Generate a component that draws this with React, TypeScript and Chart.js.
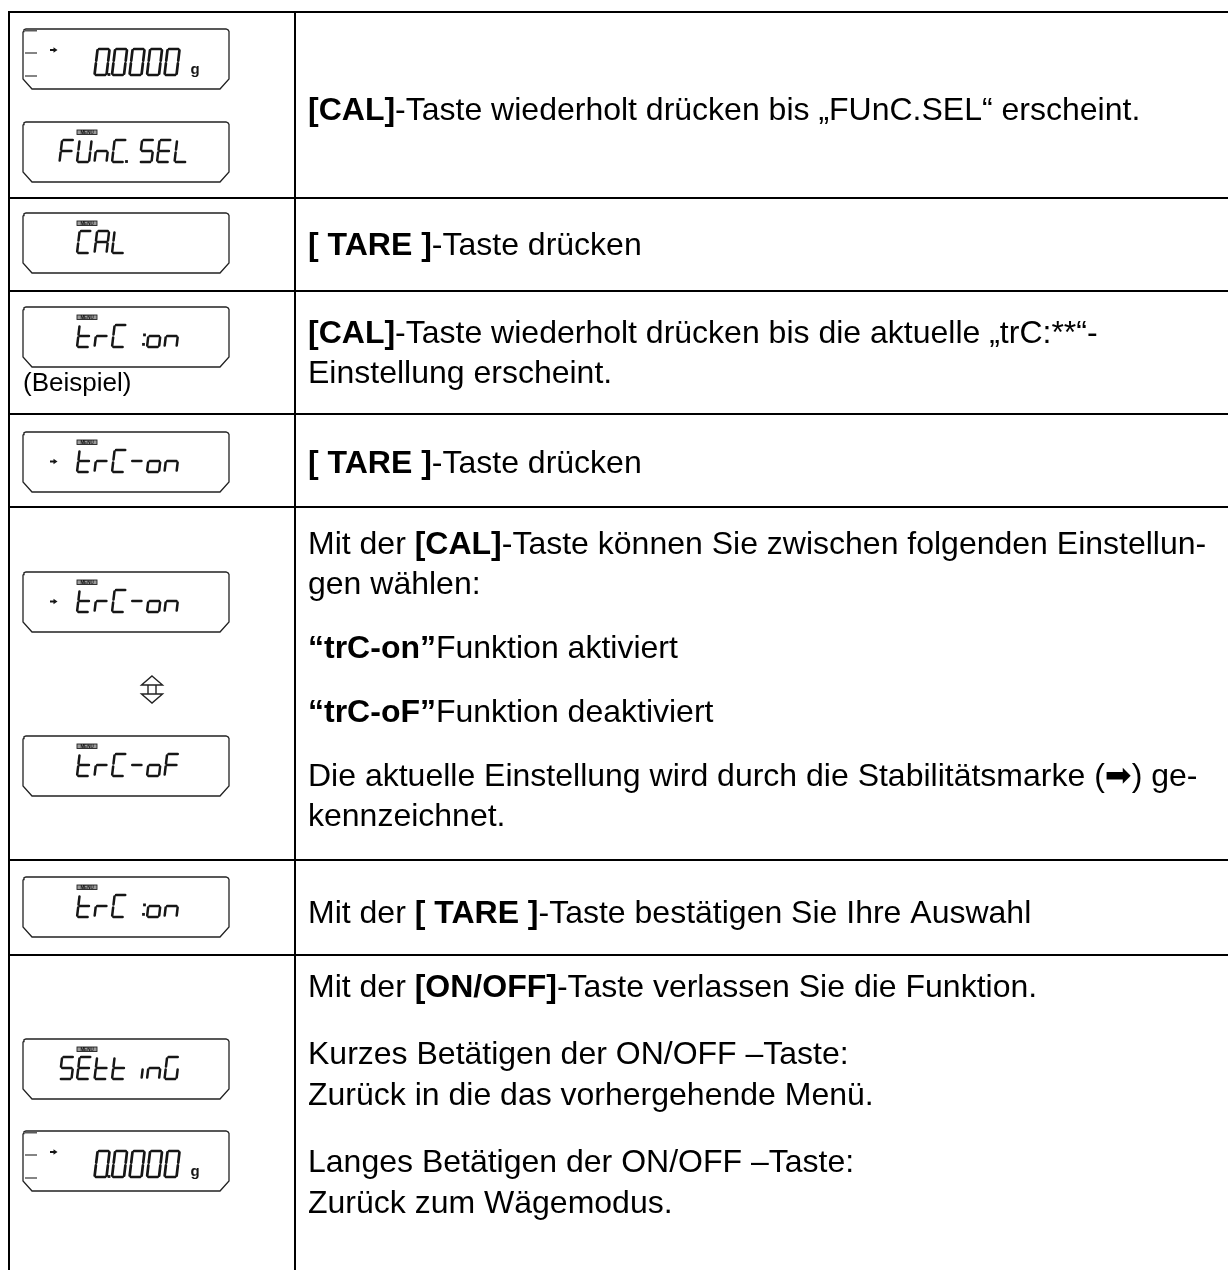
import React, { useEffect, useRef } from 'react';
import { Chart, registerables } from 'chart.js';

Chart.register(...registerables);

const PAGE_W = 1228;
const PAGE_H = 1270;

// ---- table structure (page pixels, used as scale values) ----
const rowRules = [12, 198, 291, 414, 507, 860, 955];
const columnRules = [9, 295];

// ---- LCD displays of the left column ----
const lcdTexts = ['0.0000', 'FUnC.SEL', 'CAL', 'trC:on', 'trC-on', 'trC-on', 'trC-oF', 'trC:on', 'SEttinG', '0.0000'];
const lcdKinds = ['weight', 'menu', 'menu', 'menu', 'menu', 'menu', 'menu', 'menu', 'menu', 'weight'];
const lcdStable = [true, false, false, false, true, true, false, false, false, true];
const lcdStartSlot = [2, 0, 1, 1, 1, 1, 1, 1, 0, 2];
const lcdTops = [29, 122, 213, 307, 432, 572, 736, 877, 1039, 1131];

// ---- right column texts ('|' toggles bold) ----
const rowParagraphs: string[][][] = [
  [['|[CAL]|-Taste wiederholt drücken bis „FUnC.SEL“ erscheint.']],
  [['|[ TARE ]|-Taste drücken']],
  [['|[CAL]|-Taste wiederholt drücken bis die aktuelle „trC:**“-', 'Einstellung erscheint.']],
  [['|[ TARE ]|-Taste drücken']],
  [
    ['Mit der |[CAL]|-Taste können Sie zwischen folgenden Einstellun-', 'gen wählen:'],
    ['|“trC-on”|Funktion aktiviert'],
    ['|“trC-oF”|Funktion deaktiviert'],
    ['Die aktuelle Einstellung wird durch die Stabilitätsmarke (➡) ge-', 'kennzeichnet.'],
  ],
  [['Mit der |[ TARE ]|-Taste bestätigen Sie Ihre Auswahl']],
  [
    ['Mit der |[ON/OFF]|-Taste verlassen Sie die Funktion.'],
    ['Kurzes Betätigen der ON/OFF –Taste:', 'Zurück in die das vorhergehende Menü.'],
    ['Langes Betätigen der ON/OFF –Taste:', 'Zurück zum Wägemodus.'],
  ],
];
const exampleCaption = '(Beispiel)';

// ---- layout / style constants ----
const TEXT_X = 308;
const TEXT_SIZE = 32;
const rowFirstBaseline = [120, 255, 343, 473, 554, 923, 997];
const rowLineStep = [40, 40, 40, 40, 40, 40, 41];
const rowParaStep = [64, 64, 64, 64, 64, 64, 67];
const FONT = '"Liberation Sans", Arial, "DejaVu Sans", sans-serif';

const LCD_L = 23;
const LCD_R = 229;
const LCD_H = 60;
const SLOT0 = 59.5;
const PITCH = 17.5;

const SEGMENTS: Record<string, string> = {
  '0': 'abcdef', F: 'aefg', U: 'bcdef', n: 'ceg', C: 'adef', S: 'acdfg', E: 'adefg',
  L: 'def', A: 'abcefg', r: 'eg', t: 'defg', o: 'cdeg', '-': 'g', G: 'acdef', i: 'c',
};

function boxOutline(top: number) {
  const b = top + LCD_H;
  return [
    { x: LCD_L, y: top + 2.5 }, { x: LCD_L + 1, y: top + 0.8 }, { x: LCD_L + 3, y: top },
    { x: LCD_R - 3, y: top }, { x: LCD_R - 1, y: top + 0.8 }, { x: LCD_R, y: top + 2.5 },
    { x: LCD_R, y: b - 10 }, { x: LCD_R - 9, y: b }, { x: LCD_L + 9, y: b },
    { x: LCD_L, y: b - 10 }, { x: LCD_L, y: top + 2.5 },
  ];
}

const tablePlugin = {
  id: 'manualTable',
  afterDatasetsDraw(chart: any) {
    const ctx: CanvasRenderingContext2D = chart.ctx;
    const xs = chart.scales.x;
    const ys = chart.scales.y;
    const X = (v: number) => xs.getPixelForValue(v);
    const Y = (v: number) => ys.getPixelForValue(v);
    ctx.save();

    // ---- LCD contents ----
    const ink = '#161616';
    const drawGlyph = (ch: string, x: number, top: number, w: number, h: number, lw: number) => {
      const skew = 0.12;
      const P = (px: number, py: number): [number, number] => [X(px + skew * (top + h - py)), Y(py)];
      const g = 1.4;
      const y0 = top, y1 = top + h, ym = top + h / 2;
      const defs: Record<string, number[][]> = {
        a: [[x + g, y0], [x + w - g, y0]],
        b: [[x + w, y0 + g], [x + w, ym - g]],
        c: [[x + w, ym + g], [x + w, y1 - g]],
        d: [[x + g, y1], [x + w - g, y1]],
        e: [[x, ym + g], [x, y1 - g]],
        f: [[x, y0 + g], [x, ym - g]],
        g: [[x + g, ym], [x + w - g, ym]],
      };
      ctx.beginPath();
      for (const s of SEGMENTS[ch] || '') {
        const [p, q] = defs[s];
        const a = P(p[0], p[1]);
        const bb = P(q[0], q[1]);
        ctx.moveTo(a[0], a[1]);
        ctx.lineTo(bb[0], bb[1]);
      }
      ctx.strokeStyle = ink;
      ctx.lineWidth = lw;
      ctx.lineCap = 'round';
      ctx.stroke();
    };
    const dot = (x: number, y: number) => {
      ctx.fillStyle = ink;
      ctx.fillRect(X(x) - 1.4, Y(y) - 1.4, 2.8, 2.8);
    };
    const stableArrow = (x: number, cy: number) => {
      ctx.fillStyle = ink;
      ctx.fillRect(X(x), Y(cy) - 1, 4, 2);
      ctx.beginPath();
      ctx.moveTo(X(x + 3.5), Y(cy - 2.8));
      ctx.lineTo(X(x + 7.5), Y(cy));
      ctx.lineTo(X(x + 3.5), Y(cy + 2.8));
      ctx.closePath();
      ctx.fill();
    };

    lcdTexts.forEach((txt, i) => {
      const top = lcdTops[i];
      const weight = lcdKinds[i] === 'weight';
      const h = weight ? 26 : 22;
      const w = 12;
      const gtop = top + (weight ? 20 : 18);
      const dotAdvance = weight ? 0 : 10;
      const lw = weight ? 2.7 : 2.5;
      let x = SLOT0 + PITCH * lcdStartSlot[i];
      for (const ch of txt) {
        if (ch === '.') {
          dot(x - 3, gtop + h - 0.5);
          x += dotAdvance;
        } else if (ch === ':') {
          dot(x + PITCH - 2.5, gtop + h * 0.45);
          dot(x + PITCH - 3.5, gtop + h * 0.88);
          x += PITCH;
        } else {
          drawGlyph(ch, x, gtop, w, h, lw);
          x += PITCH;
        }
      }
      if (weight) {
        ctx.strokeStyle = '#333';
        ctx.lineWidth = 1.2;
        ctx.lineCap = 'butt';
        [1.8, 24, 47].forEach((dy) => {
          ctx.beginPath();
          ctx.moveTo(X(LCD_L + 2), Y(top + dy));
          ctx.lineTo(X(LCD_L + 14), Y(top + dy));
          ctx.stroke();
        });
        ctx.fillStyle = ink;
        ctx.font = `bold 15px ${FONT}`;
        ctx.fillText('g', X(190.5), Y(top + 45));
        if (lcdStable[i]) stableArrow(50, top + 21);
      } else {
        // MENU tag
        ctx.fillStyle = '#9a9a9a';
        ctx.fillRect(X(77), Y(top + 8), 20, 4.5);
        ctx.strokeStyle = '#222';
        ctx.lineWidth = 0.9;
        ctx.strokeRect(X(77), Y(top + 8), 20, 4.5);
        ctx.fillStyle = '#111';
        ctx.font = `bold 4.5px ${FONT}`;
        ctx.textAlign = 'center';
        ctx.fillText('MENU', X(87), Y(top + 12));
        ctx.textAlign = 'left';
        if (lcdStable[i]) stableArrow(50, top + 29.5);
      }
    });

    // up-down white arrow between the two alternatives
    ctx.beginPath();
    const cx = 152, t0 = 676, t1 = 703;
    const pts = [
      [cx, t0], [cx + 10.5, t0 + 9], [cx + 4, t0 + 9], [cx + 4, t1 - 9], [cx + 10.5, t1 - 9],
      [cx, t1], [cx - 10.5, t1 - 9], [cx - 4, t1 - 9], [cx - 4, t0 + 9], [cx - 10.5, t0 + 9],
    ];
    pts.forEach((p, k) => (k === 0 ? ctx.moveTo(X(p[0]), Y(p[1])) : ctx.lineTo(X(p[0]), Y(p[1]))));
    ctx.closePath();
    ctx.moveTo(X(cx - 4), Y(t0 + 9));
    ctx.lineTo(X(cx + 4), Y(t0 + 9));
    ctx.moveTo(X(cx - 4), Y(t1 - 9));
    ctx.lineTo(X(cx + 4), Y(t1 - 9));
    ctx.strokeStyle = '#222';
    ctx.lineWidth = 1.4;
    ctx.lineJoin = 'miter';
    ctx.stroke();

    // caption under example display
    ctx.fillStyle = '#000';
    ctx.font = `26px ${FONT}`;
    ctx.textBaseline = 'alphabetic';
    ctx.fillText(exampleCaption, X(LCD_L), Y(391));

    // ---- right column texts ----
    const drawRich = (line: string, x: number, y: number) => {
      let pos = x;
      line.split('|').forEach((part, k) => {
        ctx.font = `${k % 2 === 1 ? 'bold ' : ''}${TEXT_SIZE}px ${FONT}`;
        ctx.fillText(part, pos, y);
        pos += ctx.measureText(part).width;
      });
    };
    ctx.fillStyle = '#000';
    rowParagraphs.forEach((paras, r) => {
      let y = rowFirstBaseline[r];
      paras.forEach((lines, p) => {
        if (p > 0) y += rowParaStep[r] - rowLineStep[r];
        lines.forEach((line, l) => {
          if (l > 0 || p > 0) y += rowLineStep[r];
          drawRich(line, X(TEXT_X), Y(y));
        });
      });
    });
    ctx.restore();
  },
};

export default function App() {
  const ref = useRef<HTMLCanvasElement | null>(null);
  useEffect(() => {
    if (!ref.current) return;
    const lineStyle = { showLine: true, pointRadius: 0, pointHoverRadius: 0, fill: false, tension: 0 };
    const datasets: any[] = [];
    rowRules.forEach((y) => {
      datasets.push({ ...lineStyle, data: [{ x: columnRules[0] - 1, y }, { x: PAGE_W, y }], borderColor: '#000', borderWidth: 2 });
    });
    columnRules.forEach((x) => {
      datasets.push({ ...lineStyle, data: [{ x, y: rowRules[0] - 1 }, { x, y: PAGE_H }], borderColor: '#000', borderWidth: 2 });
    });
    lcdTops.forEach((top) => {
      datasets.push({ ...lineStyle, data: boxOutline(top), borderColor: '#222', borderWidth: 1.3, borderJoinStyle: 'miter' });
    });
    const chart = new Chart(ref.current, {
      type: 'scatter',
      data: { datasets },
      options: {
        animation: false,
        responsive: false,
        devicePixelRatio: 1,
        events: [],
        layout: { padding: 0 },
        plugins: { legend: { display: false }, tooltip: { enabled: false } },
        scales: {
          x: { type: 'linear', min: 0, max: PAGE_W, display: false },
          y: { type: 'linear', min: 0, max: PAGE_H, reverse: true, display: false },
        },
      },
      plugins: [tablePlugin],
    } as any);
    return () => chart.destroy();
  }, []);
  return (
    <canvas
      ref={ref}
      width={PAGE_W}
      height={PAGE_H}
      style={{ position: 'absolute', left: 0, top: 0, display: 'block', background: '#fff' }}
    />
  );
}
